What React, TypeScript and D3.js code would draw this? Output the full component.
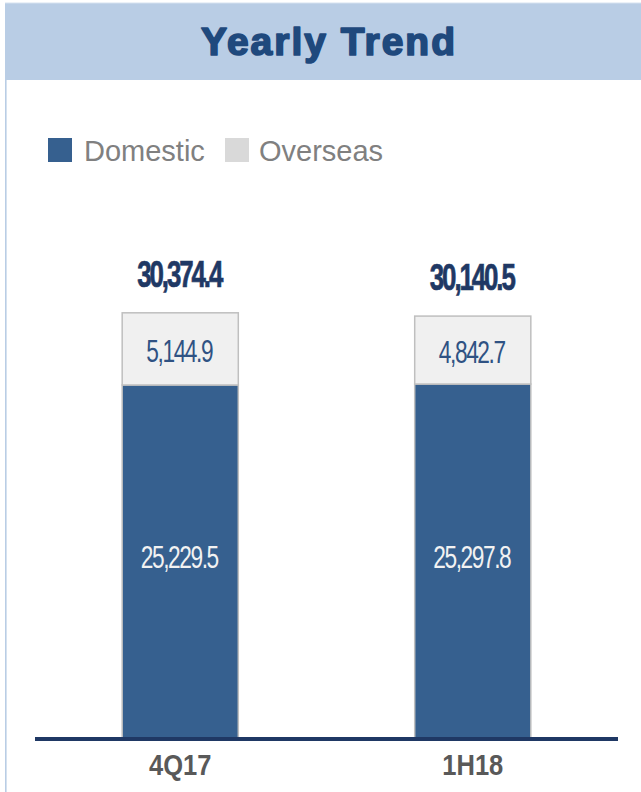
import React from "react";
import * as d3 from "d3";

const categories = ["4Q17", "1H18"];
const domestic = [25229.5, 25297.8];
const overseas = [5144.9, 4842.7];
const totals = [30374.4, 30140.5];
const seriesNames = ["Domestic", "Overseas"];

const W = 641;
const H = 792;
const FONT = "'Liberation Sans', Arial, sans-serif";

export default function App() {
  const x = d3
    .scaleBand<string>()
    .domain(categories)
    .range([35, 618])
    .paddingInner(0.603)
    .paddingOuter(0.298);
  const y = d3.scaleLinear().domain([0, 32000]).range([739, 290]);
  const fmt = d3.format(",.1f");
  const bw = x.bandwidth();

  return (
    <svg
      width={W}
      height={H}
      style={{ position: "absolute", left: 0, top: 0, background: "#fff" }}
    >
      {/* header */}
      <rect x={5} y={3} width={W - 5} height={77} fill="#b9cde5" />
      <line x1={5} y1={3} x2={W} y2={3} stroke="#d6e2f0" strokeWidth={1} />
      <line x1={5.8} y1={80} x2={5.8} y2={H} stroke="#b9cde5" strokeWidth={1.6} />
      <text
        x={329}
        y={55}
        textAnchor="middle"
        fontFamily={FONT}
        fontWeight="bold"
        fontSize={39}
        letterSpacing={2}
        fill="#1f497d"
        stroke="#1f497d"
        strokeWidth={1.7}
        strokeLinejoin="round"
      >
        Yearly Trend
      </text>

      {/* legend */}
      <rect x={48} y={138} width={24} height={24} fill="#36608f" />
      <text x={84} y={161} fontFamily={FONT} fontSize={29} fill="#808080">
        {seriesNames[0]}
      </text>
      <rect x={225} y={138} width={24} height={24} fill="#d9d9d9" />
      <text x={259} y={161} fontFamily={FONT} fontSize={29} fill="#808080">
        {seriesNames[1]}
      </text>

      {categories.map((c, i) => {
        const x0 = x(c)!;
        const cx = x0 + bw / 2;
        const yDomTop = y(domestic[i]);
        const yTop = y(domestic[i] + overseas[i]);
        return (
          <g key={c}>
            <rect
              x={x0}
              y={yDomTop}
              width={bw}
              height={y(0) - yDomTop}
              fill="#36608f"
              stroke="#bfbfbf"
              strokeWidth={1.5}
            />
            <rect
              x={x0}
              y={yTop}
              width={bw}
              height={yDomTop - yTop}
              fill="#f0f0f0"
              stroke="#bfbfbf"
              strokeWidth={1.5}
            />
            <text
              transform={`translate(${cx - 1},${(yTop + yDomTop) / 2 + 13}) scale(0.71,1)`}
              textAnchor="middle"
              fontFamily={FONT}
              fontSize={32}
              letterSpacing={-2}
              fill="#2f5283"
            >
              {fmt(overseas[i])}
            </text>
            <text
              transform={`translate(${cx - 1},${(yDomTop + y(0)) / 2 + 6}) scale(0.71,1)`}
              textAnchor="middle"
              fontFamily={FONT}
              fontSize={32}
              letterSpacing={-2}
              fill="#f2f2f2"
            >
              {fmt(domestic[i])}
            </text>
            <text
              transform={`translate(${cx - 1},${yTop - 26}) scale(0.7,1)`}
              textAnchor="middle"
              fontFamily={FONT}
              fontWeight="bold"
              fontSize={37}
              letterSpacing={-3}
              fill="#1f3864"
              stroke="#1f3864"
              strokeWidth={0.7}
            >
              {fmt(totals[i])}
            </text>
            <text
              transform={`translate(${cx},775) scale(0.85,1)`}
              textAnchor="middle"
              fontFamily={FONT}
              fontWeight="bold"
              fontSize={30}
              fill="#595959"
            >
              {c}
            </text>
          </g>
        );
      })}

      {/* axis */}
      <line x1={35} y1={739} x2={618} y2={739} stroke="#1f3864" strokeWidth={4} />
    </svg>
  );
}
